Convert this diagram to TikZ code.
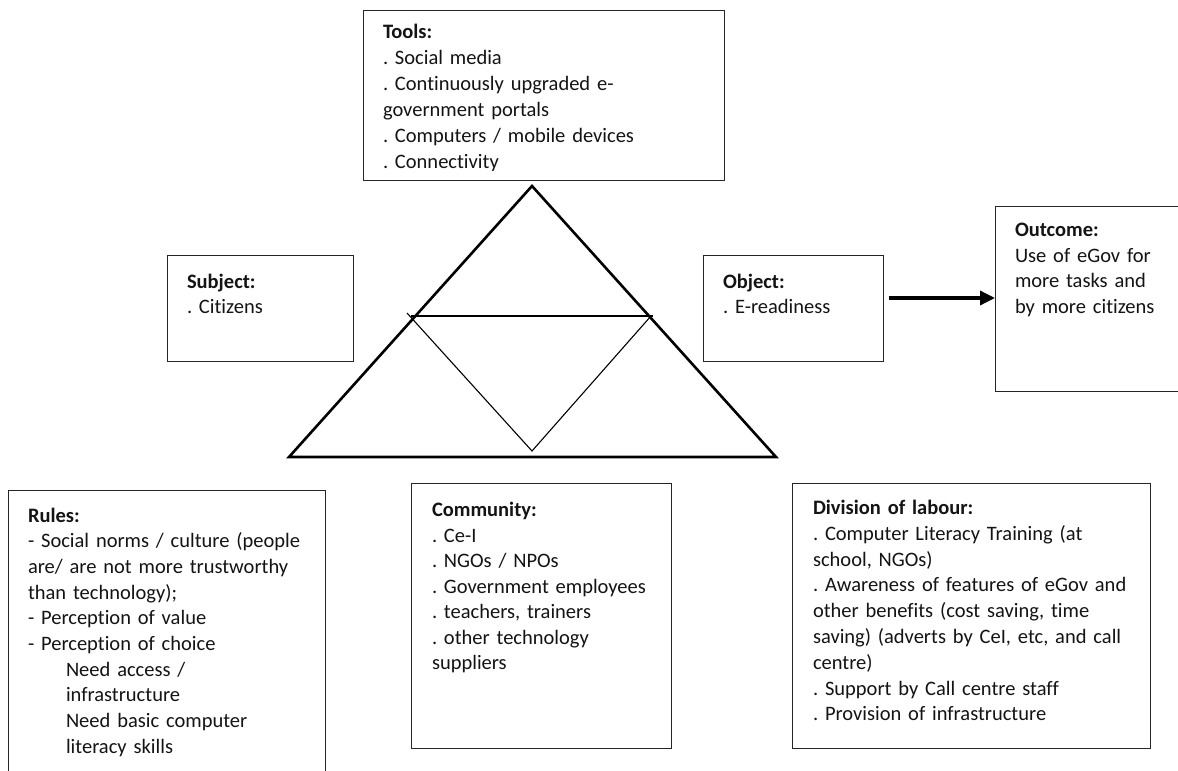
\documentclass[tikz,border=0pt]{standalone}
\usepackage{fontspec}
\setmainfont{Carlito}[Ligatures=NoCommon]
\usetikzlibrary{arrows.meta}

\tikzset{
  box/.style={draw=black!85, line width=1pt, anchor=north west, inner sep=0pt, outer sep=0pt},
  txt/.style={anchor=north west, inner sep=0pt, outer sep=0pt, align=left, text width=400pt,
              text=black!92, font=\fontsize{20.5}{25.7}\selectfont},
  tri/.style={draw=black, line width=2.6pt},
  inner/.style={draw=black, line width=1.1pt},
  flow/.style={draw=black, line width=3.4pt, -{Triangle[length=15pt,width=14pt]}},
}
\newcommand{\firstline}{\rule{0pt}{18pt}}
\frenchspacing

\begin{document}
\begin{tikzpicture}[x=1pt,y=-1pt]
  \clip (0,0) rectangle (1178,771);
  \fill[white] (0,0) rectangle (1178,771);

  % activity triangle
  \coordinate (apex) at (532,186);
  \coordinate (bl) at (289,457);
  \coordinate (br) at (776,457);
  \draw[tri] (bl) -- (apex) -- (br) -- cycle;

  % inner division
  \coordinate (hl) at (411,316);
  \coordinate (hr) at (653,316);
  \coordinate (vl) at (407,313);
  \coordinate (vb) at (532,451);
  \coordinate (vr) at (651,316);
  \draw[inner] (hl) -- (hr);
  \draw[inner] (vl) -- (vb) -- (vr);

  % Tools
  \node[box, minimum width=361pt, minimum height=170pt] (tools) at (363,10) {};
  \begin{scope}
    \clip (363,10) rectangle (724,170);
    \node[txt, font=\fontsize{20.5}{26}\selectfont] (toolsT) at (383,20.5)
      {\firstline\textbf{Tools:}\\
       . Social media\\
       . Continuously upgraded e-\\
       government portals\\
       . Computers / mobile devices\\
       . Connectivity};
  \end{scope}

  % Subject
  \node[box, minimum width=186pt, minimum height=106pt] (subj) at (167,255) {};
  \node[txt, font=\fontsize{20.5}{25}\selectfont] (subjT) at (187,270.5)
    {\firstline\textbf{Subject:}\\ . Citizens};

  % Object
  \node[box, minimum width=180pt, minimum height=106pt] (obj) at (703,255) {};
  \node[txt, font=\fontsize{20.5}{25}\selectfont] (objT) at (723,270.5)
    {\firstline\textbf{Object:}\\ . E-readiness};

  % Outcome
  \node[box, minimum width=200pt, minimum height=185pt] (out) at (995,206) {};
  \node[txt, font=\fontsize{20.5}{25.6}\selectfont] (outT) at (1015,218.5)
    {\firstline\textbf{Outcome:}\\
     Use of eGov for\\
     more tasks and\\
     by more citizens};

  % Object -> Outcome
  \coordinate (arrS) at (889,298);
  \draw[flow] (arrS) -- (arrS -| out.west);

  % Rules
  \node[box, minimum width=317pt, minimum height=300pt] (rules) at (8,490) {};
  \node[txt] (rulesT) at (28,504)
    {\firstline\textbf{Rules:}\\
     - Social norms / culture (people\\
     are/ are not more trustworthy\\
     than technology);\\
     - Perception of value\\
     - Perception of choice\\
     \hspace*{38pt}Need access /\\
     \hspace*{38pt}infrastructure\\
     \hspace*{38pt}Need basic computer\\
     \hspace*{38pt}literacy skills};

  % Community
  \node[box, minimum width=260pt, minimum height=265pt] (comm) at (411,483) {};
  \node[txt, font=\fontsize{20.5}{25.5}\selectfont] (commT) at (432,498.5)
    {\firstline\textbf{Community:}\\
     . Ce-I\\
     . NGOs / NPOs\\
     . Government employees\\
     . teachers, trainers\\
     . other technology\\
     suppliers};

  % Division of labour
  \node[box, minimum width=358pt, minimum height=265pt] (div) at (792,483) {};
  \node[txt, font=\fontsize{20.5}{25.8}\selectfont] (divT) at (813,496.5)
    {\firstline\textbf{Division of labour:}\\
     . Computer Literacy Training (at\\
     school, NGOs)\\
     . Awareness of features of eGov and\\
     other benefits (cost saving, time\\
     saving) (adverts by CeI, etc, and call\\
     centre)\\
     . Support by Call centre staff\\
     . Provision of infrastructure};
\end{tikzpicture}
\end{document}
